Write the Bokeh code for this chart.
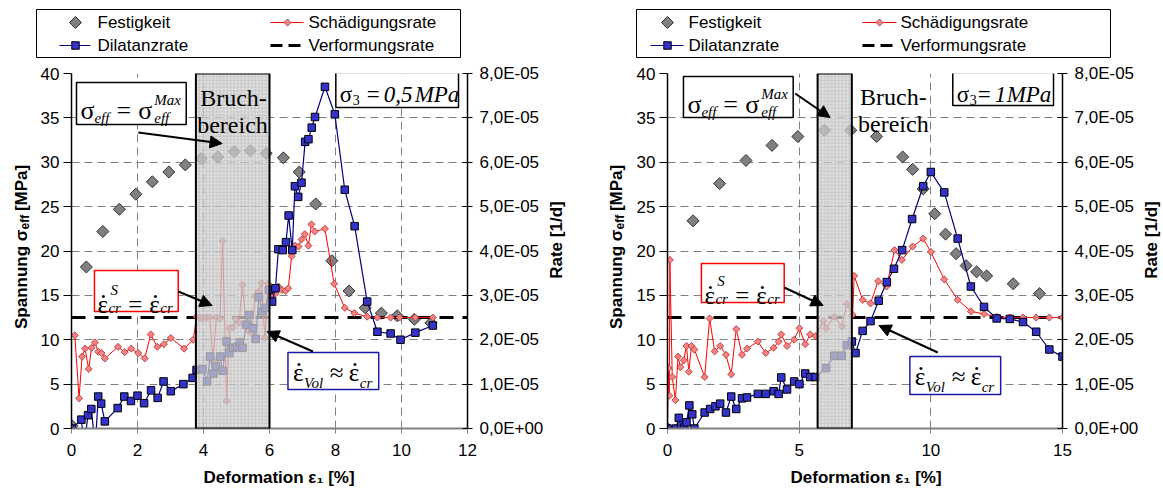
import numpy as np
from bokeh.plotting import figure
from bokeh.models import Range1d, LinearAxis, FixedTicker, Label, BoxAnnotation, Arrow, NormalHead
from bokeh.layouts import row, column
from bokeh.core.properties import value
from bokeh.embed import file_html
from bokeh.resources import INLINE

# ---------------- data ----------------
# rates are given in units of 1e-5 1/d (right axis)
L_fest_x = [0.0, 0.02, 0.45, 0.95, 1.45, 1.95, 2.45, 2.95, 3.45, 3.93, 4.43, 4.93, 5.42, 5.9, 6.42, 6.9, 7.4, 7.89, 8.41, 8.9, 9.39, 9.87, 10.39, 10.89]
L_fest_y = [0.0, 0.3, 18.2, 22.2, 24.7, 26.4, 27.8, 28.9, 29.7, 30.4, 30.6, 31.2, 31.3, 31.0, 30.5, 28.9, 25.3, 18.9, 15.5, 13.6, 13.0, 12.7, 12.3, 11.9]
L_schaed_x = [0.1, 0.23, 0.32, 0.41, 0.52, 0.61, 0.71, 0.81, 0.91, 1.01, 1.41, 1.61, 1.81, 2.02, 2.22, 2.4, 2.6, 2.8, 3.01, 3.41, 3.69,
              3.79, 3.9, 3.99, 4.09, 4.19, 4.29, 4.39, 4.5, 4.58, 4.7, 4.79, 4.89, 4.98, 5.08, 5.18, 5.28, 5.37, 5.46, 5.56, 5.66, 5.76, 5.86, 5.96,
              6.08, 6.18, 6.27, 6.38, 6.48, 6.57, 6.67, 6.77, 6.88, 6.97, 7.07, 7.18, 7.27, 7.37, 7.68, 7.96, 8.28, 8.57, 8.96, 9.27, 9.67, 9.94, 10.42, 10.95]
L_schaed_y = [2.10, 0.68, 1.62, 1.80, 1.34, 1.82, 1.94, 1.73, 1.70, 1.58, 1.84, 1.72, 1.80, 1.70, 1.58, 2.12, 1.84, 1.90, 2.04, 1.80, 2.00,
              2.52, 2.48, 2.50, 2.50, 2.50, 1.54, 2.50, 2.48, 4.22, 0.62, 2.26, 2.28, 2.46, 2.38, 3.24, 2.40, 2.20, 2.16, 2.98, 3.08, 3.28, 2.04, 3.26,
              2.96, 3.04, 3.20, 3.12, 3.10, 3.16, 3.88, 4.12, 4.10, 4.26, 4.38, 4.12, 4.60, 4.44, 4.50, 3.26, 2.72, 2.60, 2.52, 2.50, 2.50, 2.50, 2.50, 2.50]
L_dil_x = [0.0, 0.3, 0.38, 0.5, 0.6, 0.72, 0.81, 0.9, 1.01, 1.4, 1.6, 1.8, 2.0, 2.2, 2.41, 2.61, 2.79, 3.01, 3.39, 3.67,
           3.79, 3.97, 4.11, 4.2, 4.3, 4.38, 4.5, 4.58, 4.7, 4.78, 4.9, 5.02, 5.1, 5.18, 5.3, 5.38, 5.5, 5.58, 5.68, 5.78, 5.88, 5.98,
           6.08, 6.18, 6.27, 6.4, 6.5, 6.58, 6.69, 6.77, 6.87, 6.97, 7.08, 7.18, 7.28, 7.38, 7.68, 7.98, 8.28, 8.58, 8.96, 9.27, 9.67, 9.97, 10.42, 10.95]
L_dil_y = [0.0, 0.20, -0.40, 0.30, 0.44, -0.40, 0.72, 0.56, 0.16, 0.46, 0.72, 0.62, 0.74, 0.57, 0.86, 0.69, 1.06, 0.84, 1.00, 1.14,
           1.32, 1.34, 1.06, 1.62, 1.24, 1.40, 1.62, 1.30, 1.96, 1.70, 1.82, 1.84, 1.94, 1.82, 2.34, 2.56, 2.26, 2.02, 2.96, 2.64, 2.72, 3.12,
           2.86, 3.16, 4.04, 4.02, 4.20, 4.80, 4.02, 5.46, 5.22, 5.54, 6.46, 6.52, 6.78, 7.02, 7.70, 7.08, 5.38, 4.56, 2.86, 2.18, 2.14, 2.00, 2.16, 2.32]
L_verf_x = [0.0, 12.0]
L_verf_y = [2.5, 2.5]
L_bruch = [3.77, 6.0]
L_xticks = [0, 2, 4, 6, 8, 10, 12]

R_fest_x = [0.0, 0.97, 1.98, 2.98, 3.97, 4.95, 5.96, 6.96, 7.94, 8.93, 9.31, 9.71, 10.15, 10.56, 10.96, 11.34, 11.74, 12.12, 13.13, 14.13]
R_fest_y = [0.0, 23.4, 27.6, 30.2, 31.9, 32.9, 33.6, 33.6, 32.9, 30.6, 29.2, 27.0, 24.2, 21.9, 19.7, 18.35, 17.65, 17.2, 16.3, 15.2]
R_schaed_x = [0.0, 0.04, 0.07, 0.09, 0.18, 0.3, 0.4, 0.49, 0.62, 0.72, 0.81, 0.91, 1.02, 1.41, 1.6, 1.79, 2.0, 2.22, 2.42, 2.61,
              2.83, 3.02, 3.43, 3.73, 4.03, 4.22, 4.32, 4.54, 4.81, 5.01, 5.23, 5.42, 5.62, 5.92, 6.02, 6.33, 6.62, 6.81, 7.03, 7.09,
              7.41, 7.71, 8.0, 8.32, 8.62, 8.9, 9.31, 9.71, 10.0, 10.51, 11.02, 11.52, 12.02, 12.5, 13.0, 13.5, 14.0, 14.5, 15.0]
R_schaed_y = [0.0, 1.36, 0.74, 3.80, 1.16, 0.64, 1.62, 1.38, 1.54, 1.86, 1.28, 1.86, 1.78, 1.16, 2.48, 1.74, 1.86, 1.66, 1.22, 2.24,
              1.66, 1.80, 1.96, 1.70, 1.82, 1.96, 2.12, 1.86, 2.00, 2.26, 1.90, 2.12, 2.08, 2.42, 2.26, 2.52, 2.30, 2.80, 2.56, 3.44,
              2.90, 2.82, 3.32, 3.20, 4.02, 3.80, 4.10, 4.28, 3.98, 3.36, 2.90, 2.64, 2.58, 2.52, 2.50, 2.50, 2.50, 2.50, 2.50]
R_dil_x = [0.0, 0.33, 0.43, 0.52, 0.64, 0.72, 0.83, 0.94, 1.02, 1.41, 1.62, 1.82, 2.0, 2.22, 2.42, 2.61, 2.83, 3.02, 3.43, 3.73,
           4.03, 4.22, 4.32, 4.54, 4.81, 5.01, 5.23, 5.42, 5.62, 6.02, 6.33, 6.62, 6.81, 7.0, 7.14, 7.41, 7.71, 8.02, 8.33, 8.6,
           8.91, 9.29, 9.71, 10.0, 10.51, 11.02, 11.52, 12.02, 12.5, 13.0, 13.5, 14.0, 14.5, 15.0]
R_dil_y = [0.0, 0.0, 0.24, 0.08, 0.02, 0.14, 0.52, 0.32, 0.0, 0.36, 0.44, 0.50, 0.56, 0.36, 0.72, 0.44, 0.68, 0.70, 0.78, 0.78,
           0.84, 0.78, 1.15, 0.88, 1.06, 1.00, 1.24, 1.16, 1.16, 1.36, 1.64, 1.64, 1.88, 1.96, 1.70, 2.20, 2.42, 2.88, 3.30, 3.60,
           4.02, 4.72, 5.46, 5.78, 5.32, 4.28, 3.20, 2.74, 2.48, 2.47, 2.40, 2.18, 1.78, 1.62]
R_verf_x = [0.0, 15.0]
R_verf_y = [2.5, 2.5]
R_bruch = [5.7, 7.0]
R_xticks = [0, 5, 10, 15]

y_ticks = [0, 5, 10, 15, 20, 25, 30, 35, 40]
rate_ticks = [0, 1, 2, 3, 4, 5, 6, 7, 8]
rate_tick_labels = ["0,0E+00", "1,0E-05", "2,0E-05", "3,0E-05", "4,0E-05", "5,0E-05", "6,0E-05", "7,0E-05", "8,0E-05"]

legend_names = ["Festigkeit", "Schädigungsrate", "Dilatanzrate", "Verformungsrate"]
sigma3_values = ["0,5", "1"]

# ---------------- style / layout ----------------
SANS = "Liberation Sans"
SERIF = "Liberation Serif"
TOTAL_H = 489
LEG_H = 60
XLAB_H = 24
PLOT_H = TOTAL_H - LEG_H - XLAB_H   # 405
FT, FB = 13, 368
GRID = "#808080"
C_FEST = "#808080"
C_RED = "#ff0000"
C_RED_M = "#ff8080"
C_BLUE = "#000080"
C_BLUE_M = "#3333cc"

panels = [
    dict(px0=0, width=580, ylw=32, rlw=34, ox=32, fl=39, fr=436, xmax=12, xticks=L_xticks,
         fest=(L_fest_x, L_fest_y), schaed=(L_schaed_x, L_schaed_y), dil=(L_dil_x, L_dil_y),
         verf=(L_verf_x, L_verf_y), bruch=L_bruch, s3=sigma3_values[0],
         leg=dict(box=(36, 460), c1=(59, 90, 75, 97), c2=(270, 303, 287, 308)),
         ylab_x=20.5, rlab_x=556, xlab_x=203,
         effbox=(76, 82, 110, 42), s3box=(336, 72, 123, 35, [4, 17, 31, 48, 79]),
         redbox=(94, 270, 84, 41), bluebox=(288, 352, 91, 37),
         bruchtxt=(200, 97, 197, 124),
         arrows=[(138, 132, 222, 143), (178, 291, 212, 305), (313, 351, 267, 331)]),
    dict(px0=580, width=583, ylw=46, rlw=22, ox=626, fl=41, fr=437, xmax=15, xticks=R_xticks,
         fest=(R_fest_x, R_fest_y), schaed=(R_schaed_x, R_schaed_y), dil=(R_dil_x, R_dil_y),
         verf=(R_verf_x, R_verf_y), bruch=R_bruch, s3=sigma3_values[1],
         leg=dict(box=(56, 530), c1=(70, 103, 87, 108), c2=(282, 316, 299, 320)),
         ylab_x=615.5, rlab_x=1151, xlab_x=790,
         effbox=(683, 76, 110, 41), s3box=(953, 72, 101, 33, [4, 17, 25, 42, 54]),
         redbox=(701, 263, 83, 39), bluebox=(910, 356, 91, 38),
         bruchtxt=(860, 96, 858, 123),
         arrows=[(795, 93, 830, 117), (784, 287, 823, 305), (938, 352, 879, 325)]),
]


def to_data(cfg, wx, wy):
    x = (wx - cfg["ox"] - cfg["fl"]) / (cfg["fr"] - cfg["fl"]) * cfg["xmax"]
    y = (LEG_H + FB - wy) / (FB - FT) * 40.0
    return x, y


def lab(p, cfg, wx, wy, text, size, font=SERIF, style="normal", align="left", baseline="alphabetic", color="black"):
    x, y = to_data(cfg, wx, wy)
    p.add_layout(Label(x=x, y=y, text=text, text_font=font, text_font_size=f"{size}px",
                       text_font_style=style, text_align=align, text_baseline=baseline, text_color=color))


def eps_dot(p, cfg, wx, wy, size=25):
    # epsilon with a dot above (time derivative)
    lab(p, cfg, wx, wy, "\u03b5", size)
    lab(p, cfg, wx + 6, wy - 15, ".", size, align="center")


def box(p, cfg, bx, by, w, h, color):
    x0, y0 = to_data(cfg, bx, by)
    x1, y1 = to_data(cfg, bx + w, by + h)
    p.add_layout(BoxAnnotation(left=x0, right=x1, top=y0, bottom=y1, fill_color="white", fill_alpha=1.0,
                               line_color=color, line_alpha=1.0, line_width=1.5))


def blank(width, height, xr, yr):
    f = figure(width=width, height=height, x_range=Range1d(*xr), y_range=Range1d(*yr),
               output_backend="svg", toolbar_location=None, title=None,
               x_axis_type=None, y_axis_type=None,
               min_border_left=0, min_border_right=0, min_border_top=0, min_border_bottom=0)
    f.grid.visible = False
    f.outline_line_color = None
    f.background_fill_color = "white"
    f.border_fill_color = "white"
    return f


def make_legend(cfg):
    W = cfg["width"]
    lg = blank(W, LEG_H, (0, W), (LEG_H, 0))
    L = cfg["leg"]
    l, r = L["box"]
    lg.quad(left=[l], right=[r], top=[9], bottom=[57], fill_color="white", line_color="black", line_width=1)
    a0, a1, am, at = L["c1"]
    b0, b1, bm, bt = L["c2"]
    y1, y2 = 22, 45
    lg.scatter([am], [y1], marker="square", angle=np.pi / 4, size=8.5, fill_color=C_FEST, line_color="#333333")
    lg.line([b0, b1], [y1, y1], line_color=C_RED, line_width=1)
    lg.scatter([bm], [y1], marker="square", angle=np.pi / 4, size=5, fill_color=C_RED_M, line_color="#993333", line_width=0.8)
    lg.line([a0, a1], [y2, y2], line_color=C_BLUE, line_width=1.2)
    lg.scatter([am], [y2], marker="square", size=7.5, fill_color=C_BLUE_M, line_color="black")
    lg.line([b0, b1], [y2, y2], line_color="black", line_width=3, line_dash="12 6")
    lg.text(x=[at, bt, at, bt], y=[y1, y1, y2, y2], text=legend_names,
            text_font=value(SANS), text_font_size="17px", text_baseline="middle", text_align="left", text_color="black")
    return lg


def make_ylab(cfg):
    x0 = cfg["px0"]
    w = cfg["ylw"]
    f = blank(w, PLOT_H, (x0, x0 + w), (TOTAL_H - LEG_H - PLOT_H, TOTAL_H - LEG_H))
    xc = cfg["ylab_x"]
    P = 238  # window y where "Spannung σ" ends and the subscript starts
    common = dict(angle=np.pi / 2, text_font=value(SANS), text_font_style="bold",
                  text_baseline="middle", text_color="black")
    f.text(x=[xc], y=[TOTAL_H - P], text=["Spannung \u03c3"], text_font_size="17px", text_align="right", **common)
    f.text(x=[xc + 4], y=[TOTAL_H - P], text=["eff"], text_font_size="12px", text_align="left", **common)
    f.text(x=[xc], y=[TOTAL_H - (P - 21)], text=["[MPa]"], text_font_size="17px", text_align="left", **common)
    return f


def make_rlab(cfg):
    w = cfg["rlw"]
    x0 = cfg["px0"] + cfg["width"] - w
    f = blank(w, PLOT_H, (x0, x0 + w), (TOTAL_H - LEG_H - PLOT_H, TOTAL_H - LEG_H))
    f.text(x=[cfg["rlab_x"]], y=[TOTAL_H - 250], text=["Rate [1/d]"], angle=np.pi / 2,
           text_font=value(SANS), text_font_style="bold", text_font_size="17px",
           text_align="center", text_baseline="middle", text_color="black")
    return f


def make_xlab(cfg):
    W = cfg["width"]
    x0 = cfg["px0"]
    f = blank(W, XLAB_H, (x0, x0 + W), (0, XLAB_H))
    f.text(x=[cfg["xlab_x"]], y=[TOTAL_H - 477], text=["Deformation \u03b5\u2081 [%]"],
           text_font=value(SANS), text_font_style="bold", text_font_size="17px",
           text_align="left", text_baseline="alphabetic", text_color="black")
    return f


def make_panel(cfg):
    W = cfg["width"] - cfg["ylw"] - cfg["rlw"]
    p = figure(width=W, height=PLOT_H, x_range=Range1d(0, cfg["xmax"]), y_range=Range1d(0, 40),
               output_backend="svg", toolbar_location=None, title=None,
               min_border_left=cfg["fl"], min_border_right=W - cfg["fr"],
               min_border_top=FT, min_border_bottom=PLOT_H - FB)
    p.extra_y_ranges = {"rate": Range1d(0, 8)}
    p.outline_line_color = None
    p.background_fill_color = "white"
    p.border_fill_color = "white"

    xa = p.xaxis[0]
    xa.ticker = FixedTicker(ticks=cfg["xticks"])
    xa.axis_line_color = "#808080"
    xa.axis_line_width = 2
    xa.major_tick_line_color = "#808080"
    xa.major_tick_out = 5
    xa.major_tick_in = 0
    xa.minor_tick_line_color = None
    xa.major_label_standoff = 10
    xa.major_label_text_font = SANS
    xa.major_label_text_font_size = "17px"
    xa.major_label_text_color = "black"

    ya = p.yaxis[0]
    ya.ticker = FixedTicker(ticks=y_ticks)
    ya.axis_line_color = "black"
    ya.axis_line_width = 1.5
    ya.major_tick_line_color = "black"
    ya.major_tick_out = 8
    ya.major_tick_in = 0
    ya.minor_tick_line_color = None
    ya.major_label_standoff = 4
    ya.major_label_text_font = SANS
    ya.major_label_text_font_size = "17px"
    ya.major_label_text_color = "black"

    ra = LinearAxis(y_range_name="rate", ticker=FixedTicker(ticks=rate_ticks),
                    major_label_overrides={t: s for t, s in zip(rate_ticks, rate_tick_labels)})
    ra.axis_line_color = "black"
    ra.axis_line_width = 1.5
    ra.major_tick_line_color = "black"
    ra.major_tick_out = 5
    ra.major_tick_in = 5
    ra.minor_tick_line_color = None
    ra.major_label_standoff = 7
    ra.major_label_text_font = SANS
    ra.major_label_text_font_size = "17px"
    ra.major_label_text_color = "black"
    p.add_layout(ra, "right")

    for g in (p.xgrid[0], p.ygrid[0]):
        g.grid_line_color = GRID
        g.grid_line_dash = "8 5"
        g.grid_line_width = 1

    # series
    fx, fy = cfg["fest"]
    p.scatter(fx, fy, marker="square", angle=np.pi / 4, size=8.5, fill_color=C_FEST, line_color="#333333", line_width=1)
    vx, vy = cfg["verf"]
    p.line(vx, vy, y_range_name="rate", line_color="black", line_width=3, line_dash="14 9")
    sx, sy = cfg["schaed"]
    p.line(sx, sy, y_range_name="rate", line_color=C_RED, line_width=1)
    p.scatter(sx, sy, y_range_name="rate", marker="square", angle=np.pi / 4, size=5, fill_color=C_RED_M,
              line_color="#993333", line_width=0.8)
    dx_, dy_ = cfg["dil"]
    p.line(dx_, dy_, y_range_name="rate", line_color=C_BLUE, line_width=1.2)
    p.scatter(dx_, dy_, y_range_name="rate", marker="square", size=7.5, fill_color=C_BLUE_M,
              line_color="black", line_width=1)

    # Bruchbereich
    b0, b1 = cfg["bruch"]
    p.add_layout(BoxAnnotation(left=b0, right=b1, bottom=0, top=40, fill_color="#d4d4d4", fill_alpha=0.72,
                               hatch_pattern="+", hatch_scale=3.5, hatch_color="#9a9a9a", hatch_alpha=0.55,
                               hatch_weight=0.6, line_color="black", line_alpha=1.0, line_width=2))
    bx1, by1, bx2, by2 = cfg["bruchtxt"]
    lab(p, cfg, bx1, by1, "Bruch-", 24)
    lab(p, cfg, bx2, by2, "bereich", 24)

    # sigma_eff = sigma_eff^Max box
    bx, by, bw, bh = cfg["effbox"]
    box(p, cfg, bx, by, bw, bh, "black")
    lab(p, cfg, bx + 4, by + 28, "\u03c3", 26)
    lab(p, cfg, bx + 18, by + 35, "eff", 15, style="italic")
    lab(p, cfg, bx + 40, by + 28, "=", 26)
    lab(p, cfg, bx + 62, by + 28, "\u03c3", 26)
    lab(p, cfg, bx + 78, by + 17, "Max", 15, style="italic")
    lab(p, cfg, bx + 78, by + 35, "eff", 15, style="italic")

    # sigma_3 box
    bx, by, bw, bh, offs = cfg["s3box"]
    box(p, cfg, bx, by, bw, bh, "black")
    lab(p, cfg, bx + offs[0], by + 22, "\u03c3", 23)
    lab(p, cfg, bx + offs[1], by + 27, "3", 14)
    lab(p, cfg, bx + offs[2], by + 22, "=", 23)
    lab(p, cfg, bx + offs[3], by + 22, cfg["s3"], 23, style="italic")
    lab(p, cfg, bx + offs[4], by + 22, "MPa", 23, style="italic")

    # red box
    bx, by, bw, bh = cfg["redbox"]
    box(p, cfg, bx, by, bw, bh, C_RED)
    base = by + bh - 7
    eps_dot(p, cfg, bx + 3, base)
    lab(p, cfg, bx + 16, base - 15, "S", 15, style="italic")
    lab(p, cfg, bx + 14, base + 3, "cr", 15, style="italic")
    lab(p, cfg, bx + 34, base, "=", 25)
    eps_dot(p, cfg, bx + 55, base)
    lab(p, cfg, bx + 66, base + 3, "cr", 15, style="italic")

    # blue box
    bx, by, bw, bh = cfg["bluebox"]
    box(p, cfg, bx, by, bw, bh, "#1a1aa6")
    base = by + 20
    eps_dot(p, cfg, bx + 5, base)
    lab(p, cfg, bx + 16, base + 10, "Vol", 15, style="italic")
    lab(p, cfg, bx + 42, base, "\u2248", 25)
    eps_dot(p, cfg, bx + 61, base)
    lab(p, cfg, bx + 72, base + 10, "cr", 15, style="italic")

    # arrows
    for (x0, y0, x1, y1) in cfg["arrows"]:
        a, b = to_data(cfg, x0, y0)
        c, d = to_data(cfg, x1, y1)
        p.add_layout(Arrow(end=NormalHead(size=12, fill_color="black", line_color="black", line_width=1),
                           x_start=a, y_start=b, x_end=c, y_end=d, line_color="black", line_width=2))
    return p


cols = []
for cfg in panels:
    mid = row(make_ylab(cfg), make_panel(cfg), make_rlab(cfg), spacing=0)
    cols.append(column(make_legend(cfg), mid, make_xlab(cfg), spacing=0))
layout = row(*cols, spacing=0)

open("out.html", "w").write(file_html(layout, INLINE))
